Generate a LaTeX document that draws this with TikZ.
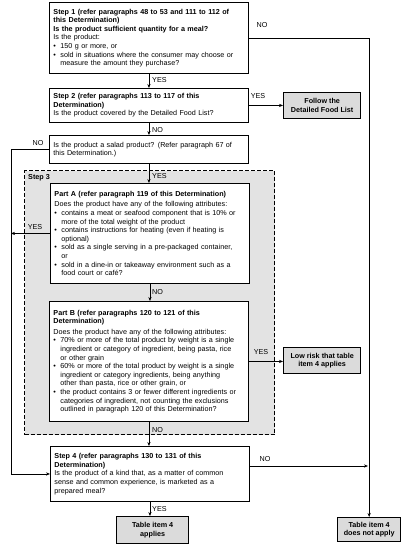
\documentclass[tikz,border=0pt]{standalone}
\usepackage{fontspec}
\setmainfont{Liberation Sans}
\usetikzlibrary{arrows.meta,calc}
\newcommand\fs{\fontsize{7.2}{8.6}\selectfont}
\newcommand\itm{\par\noindent\makebox[7pt][l]{\textbullet}}
\newcommand\nl{\\\hspace*{7pt}}
\newcommand\gap{\par\vspace{2pt}}
\begin{document}
\begin{tikzpicture}[x=1pt,y=-1pt,
  box/.style={draw,line width=0.9pt,fill=white,anchor=north west,align=left,
    inner xsep=4pt,inner ysep=1pt,font=\fs},
  endbox/.style={draw,line width=1.3pt,fill=gray!28,anchor=north west,align=center,
    inner sep=1pt,font=\fs\bfseries},
  conn/.style={line width=0.9pt},
  arr/.style={line width=0.9pt,-{Stealth[length=4pt,width=3.2pt]}},
  lbl/.style={font=\fs,inner sep=0pt},
  region/.style={draw,line width=1.2pt,dash pattern=on 4pt off 2pt,fill=gray!22}]
\useasboundingbox (0,0) rectangle (407,549);
\fill[white] (0,0) rectangle (407,549);
% Step 3 region
\node[region,anchor=north west,minimum width=250pt,minimum height=264pt,inner sep=0pt] (reg) at (24,170) {};
\node[lbl,font=\fs\bfseries,anchor=west] (reglbl) at (28,178) {Step 3};
% boxes
\node[box,text width=191pt,minimum height=71pt] (s1) at (49,2) {%
\textbf{Step 1 (refer paragraphs 48 to 53 and 111 to 112 of}\\
\textbf{this Determination)}\\
\textbf{Is the product sufficient quantity for a meal?}\\
Is the product:
\itm 150 g or more, or
\itm sold in situations where the consumer may choose or\nl measure the amount they purchase?};
\node[box,text width=191pt,minimum height=34pt] (s2) at (49,88) {%
\textbf{Step 2 (refer paragraphs 113 to 117 of this}\\
\textbf{Determination)}\\
Is the product covered by the Detailed Food List?};
\node[box,text width=191pt,minimum height=28pt] (salad) at (49,135) {%
Is the product a salad product? (Refer paragraph 67 of\\
this Determination.)};
\node[box,text width=191pt,minimum height=100pt] (pa) at (50,183) {%
\textbf{Part A (refer paragraph 119 of this Determination)}\gap
\noindent Does the product have any of the following attributes:
\itm contains a meat or seafood component that is 10\% or\nl more of the total weight of the product
\itm contains instructions for heating (even if heating is\nl optional)
\itm sold as a single serving in a pre-packaged container,\nl or
\itm sold in a dine-in or takeaway environment such as a\nl food court or café?};
\node[box,text width=191pt,minimum height=120pt] (pb) at (49,301) {%
\textbf{Part B (refer paragraphs 120 to 121 of this}\\
\textbf{Determination)}\gap
\noindent Does the product have any of the following attributes:
\itm 70\% or more of the total product by weight is a single\nl ingredient or category of ingredient, being pasta, rice\nl or other grain
\itm 60\% or more of the total product by weight is a single\nl ingredient or category ingredients, being anything\nl other than pasta, rice or other grain, or
\itm the product contains 3 or fewer different ingredients or\nl categories of ingredient, not counting the exclusions\nl outlined in paragraph 120 of this Determination?};
\node[box,text width=191pt,minimum height=55pt] (s4) at (50,446) {%
\textbf{Step 4 (refer paragraphs 130 to 131 of this}\\
\textbf{Determination)}\\
Is the product of a kind that, as a matter of common\\
sense and common experience, is marketed as a\\
prepared meal?};
% end boxes
\node[endbox,minimum width=77pt,minimum height=26pt] (follow) at (283,92) {Follow the\\Detailed Food List};
\node[endbox,minimum width=77pt,minimum height=26pt] (low) at (283,347) {Low risk that table\\item 4 applies};
\node[endbox,minimum width=72pt,minimum height=27pt] (ap) at (116,516) {Table item 4\\applies};
\node[endbox,minimum width=63pt,minimum height=24pt] (na) at (337,517) {Table item 4\\does not apply};
\coordinate (L) at (11,0);
\coordinate (R) at (368,0);
% connectors
\draw[arr] (s1.south) -- (s1.south |- s2.north);
\draw[arr] (s1.east) -| (na.north);
\draw[arr] (s2.east) -- (follow.west |- s2.east);
\draw[arr] (s2.south) -- (s2.south |- salad.north);
\draw[arr] (salad.west) -- (salad.west -| L) |- (s4.west);
\draw[arr] (salad.south) -- (salad.south |- pa.north);
\draw[arr] (pa.west) -- (pa.west -| L);
\draw[arr] (pa.south) -- (pa.south |- pb.north);
\draw[arr] (pb.east) -- (low.west |- pb.east);
\draw[arr] (pb.south) -- (pb.south |- s4.north);
\draw[arr] ([yshift=-20pt]s4.north east) -- ([yshift=-20pt]s4.north east -| R);
\draw[arr] (s4.south) -- (s4.south |- ap.north);
% labels
\node[lbl,anchor=west] (l1) at (152,80) {YES};
\node[lbl] (l2) at (262,25) {NO};
\node[lbl] (l3) at (258,96) {YES};
\node[lbl,anchor=west] (l4) at (152,130) {NO};
\node[lbl] (l5) at (38,143) {NO};
\node[lbl,anchor=west] (l6) at (152,176) {YES};
\node[lbl] (l7) at (35,227) {YES};
\node[lbl,anchor=west] (l8) at (152,292) {NO};
\node[lbl] (l9) at (261,352) {YES};
\node[lbl,anchor=west] (l10) at (152,430) {NO};
\node[lbl] (l11) at (265,459) {NO};
\node[lbl,anchor=west] (l12) at (152,509) {YES};
\end{tikzpicture}
\end{document}
